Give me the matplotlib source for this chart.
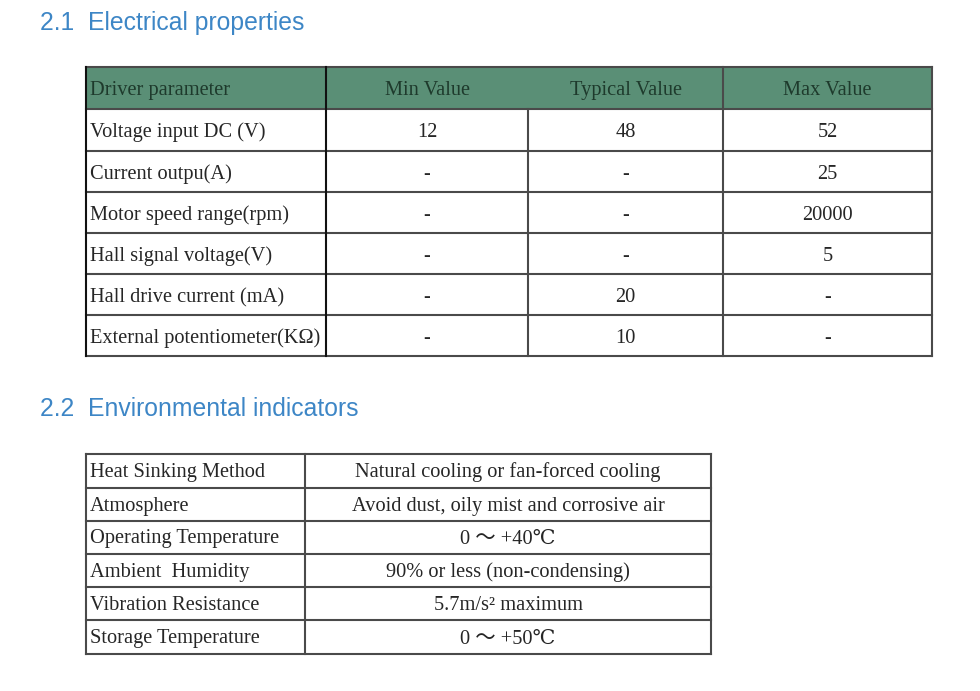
import matplotlib
matplotlib.use("Agg")
import matplotlib.pyplot as plt
from matplotlib.patches import Rectangle

# ---------------- data ----------------
title1 = "2.1  Electrical properties"
title2 = "2.2  Environmental indicators"

elec_header = ["Driver parameter", "Min Value", "Typical Value", "Max Value"]
elec_params = ["Voltage input DC (V)", "Current outpu(A)", "Motor speed range(rpm)",
               "Hall signal voltage(V)", "Hall drive current (mA)",
               "External potentiometer(KΩ)"]
elec_min = ["12", "-", "-", "-", "-", "-"]
elec_typ = ["48", "-", "-", "-", "20", "10"]
elec_max = ["52", "25", "20000", "5", "-", "-"]

env_items = ["Heat Sinking Method", "Atmosphere", "Operating Temperature",
             "Ambient  Humidity", "Vibration Resistance", "Storage Temperature"]
env_values = ["Natural cooling or fan-forced cooling",
              "Avoid dust, oily mist and corrosive air",
              "0 ～ +40℃", "90% or less (non-condensing)",
              "5.7m/s² maximum", "0 ～ +50℃"]

# ---------------- layout / style ----------------
W, H = 980, 691
fig = plt.figure(figsize=(W / 100, H / 100), dpi=100)
ax = fig.add_axes([0, 0, 1, 1])
ax.set_xlim(0, W)
ax.set_ylim(H, 0)
ax.axis("off")

BLUE = "#3d86c6"
GREEN = "#5a8f76"
TXT = "#262626"
HTXT = "#1e3a2c"
LINE = "#4a4a4a"
serif = ["Liberation Serif", "DejaVu Serif", "Noto Sans CJK SC"]
sans = ["Liberation Sans", "DejaVu Sans"]
FS = 14.7
TFS = 17.8

ax.text(40, 30, title1, color=BLUE, fontsize=TFS, family=sans, va="baseline", ha="left")
ax.text(40, 416, title2, color=BLUE, fontsize=TFS, family=sans, va="baseline", ha="left")

# table 1 geometry
c1 = [86, 326, 528, 723, 932]
r1 = [67, 108.5, 150.5, 191.5, 233, 274, 315, 356]
off1 = 7.5

ax.add_patch(Rectangle((c1[0], r1[0]), c1[-1] - c1[0], r1[1] - r1[0],
                       facecolor=GREEN, edgecolor="none", zorder=1))
for y in r1:
    ax.plot([c1[0], c1[-1]], [y, y], color=LINE, lw=1.5, zorder=3)
for i, x in enumerate(c1):
    y0 = r1[1] if i == 2 else r1[0]
    col = "#111111" if i in (0, 1) else LINE
    ax.plot([x, x], [y0, r1[-1]], color=col, lw=1.5, zorder=3)

hy = (r1[0] + r1[1]) / 2 + off1
ax.text(c1[0] + 4, hy, elec_header[0], fontsize=FS, family=serif, color=HTXT,
        va="baseline", ha="left")
for j in range(1, 4):
    ax.text((c1[j] + c1[j + 1]) / 2, hy, elec_header[j], fontsize=FS, family=serif,
            color=HTXT, va="baseline", ha="center")

cols = [elec_min, elec_typ, elec_max]
for i, p in enumerate(elec_params):
    yc = (r1[i + 1] + r1[i + 2]) / 2 + off1
    ax.text(c1[0] + 4, yc, p, fontsize=FS, family=serif, color=TXT, va="baseline", ha="left")
    for j, col in enumerate(cols):
        v = col[i]
        ax.text((c1[j + 1] + c1[j + 2]) / 2, yc, v, fontsize=FS, family=serif, color=TXT,
                va="baseline", ha="center", fontweight="bold" if v == "-" else "normal")

# table 2 geometry
c2 = [86, 305, 711]
r2 = [454, 487.5, 520.5, 553.5, 587, 620, 654]
off2 = 6.5
for y in r2:
    ax.plot([c2[0], c2[-1]], [y, y], color=LINE, lw=1.5, zorder=3)
for x in c2:
    ax.plot([x, x], [r2[0], r2[-1]], color=LINE, lw=1.5, zorder=3)
for i, (k, v) in enumerate(zip(env_items, env_values)):
    yc = (r2[i] + r2[i + 1]) / 2 + off2
    ax.text(c2[0] + 4, yc, k, fontsize=FS, family=serif, color=TXT, va="baseline", ha="left")
    ax.text((c2[1] + c2[2]) / 2, yc, v, fontsize=FS, family=serif, color=TXT,
            va="baseline", ha="center")

fig.savefig("out.png", dpi=100, facecolor="white")
